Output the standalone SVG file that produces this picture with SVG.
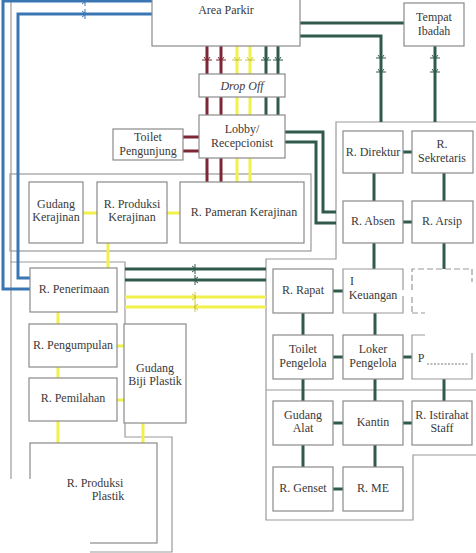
<svg xmlns="http://www.w3.org/2000/svg" width="476" height="553" viewBox="0 0 476 553">
<style>
.box{fill:#fff;stroke:#8a8a8a;stroke-width:1.2}
.cont{fill:none;stroke:#9a9a9a;stroke-width:1.2}
.t{font-family:"Liberation Serif",serif;font-size:12px;fill:#3a3a3a;text-anchor:middle}
.r{stroke:#7d2634;stroke-width:3;fill:none}
.y{stroke:#f2f04a;stroke-width:3;fill:none}
.g{stroke:#2f5a4c;stroke-width:3;fill:none}
.b{stroke:#3a76b4;stroke-width:3;fill:none}
</style>
<defs>
<g id="tv" fill="none" stroke="currentColor" stroke-width="1"><path d="M-5,0 H5 M-3,-3 L0,1 L3,-3"/></g>
<g id="th" fill="none" stroke="currentColor" stroke-width="1"><path d="M0,-5 V5 M-3,-3 L1,0 L-3,3"/></g>
<g id="th2" fill="none" stroke="currentColor" stroke-width="1"><path d="M0,-5 V5 M3,-3 L-1,0 L3,3"/></g>
</defs>
<rect width="476" height="553" fill="#fff"/>

<!-- containers -->
<g id="containers">
<path class="cont" d="M11,0 V479"/>
<rect class="cont" x="10" y="174" width="301" height="77"/>
<path class="cont" d="M10,262 H125 V437 H172 V552 H90"/>
<path class="cont" d="M476,122 H336 V259 H266 V520 H413 V455 H476"/>
<path class="cont" d="M266,390 H476"/>
</g>

<!-- connectors -->
<g id="connectors">
<!-- blue -->
<path class="b" d="M152,1 H3 V289 H30"/>
<path class="b" d="M152,14 H18 V278 H30"/>
<use href="#th" x="85" y="1" style="color:#3a76b4"/>
<use href="#th" x="85" y="14" style="color:#3a76b4"/>
<!-- area parkir to drop off -->
<path class="r" d="M207,46 V182 M221,46 V182"/>
<path class="y" d="M237,46 V182 M250,46 V182"/>
<path class="g" d="M266,46 V115 M278,46 V115"/>
<use href="#tv" x="207" y="60" style="color:#7d2634"/>
<use href="#tv" x="221" y="60" style="color:#7d2634"/>
<use href="#tv" x="237" y="60" style="color:#c8c640"/>
<use href="#tv" x="250" y="60" style="color:#c8c640"/>
<use href="#tv" x="266" y="60" style="color:#2f5a4c"/>
<use href="#tv" x="278" y="60" style="color:#2f5a4c"/>
<!-- toilet pengunjung -->
<path class="r" d="M183,137 H199 M183,151 H199"/>
<!-- lobby to office -->
<path class="g" d="M285,132 H323 V212 H336"/>
<path class="g" d="M285,142 H316 V223 H336"/>
<!-- area parkir to right -->
<path class="g" d="M300,23 H404"/>
<path class="g" d="M300,36 H381 V122"/>
<path class="g" d="M435,46 V122"/>
<use href="#tv" x="381" y="58" style="color:#2f5a4c"/>
<use href="#tv" x="381" y="72" style="color:#2f5a4c"/>
<use href="#tv" x="435" y="58" style="color:#2f5a4c"/>
<use href="#tv" x="435" y="72" style="color:#2f5a4c"/>
<!-- kerajinan -->
<path class="y" d="M83,213 H97 M167,213 H180 M108,243 V268"/>
<!-- penerimaan to right -->
<path class="g" d="M125,269 H266 M125,280 H266"/>
<path class="y" d="M125,297 H266 M125,307 H266"/>
<use href="#th" x="195" y="269" style="color:#2f5a4c"/>
<use href="#th2" x="195" y="280" style="color:#2f5a4c"/>
<use href="#th" x="195" y="297" style="color:#c8c640"/>
<use href="#th2" x="195" y="307" style="color:#c8c640"/>
<!-- plastik chain -->
<path class="y" d="M58,312 V324 M58,367 V378 M58,421 V443 M117,346 H124 M117,400 H124 M143,423 V443"/>
<!-- office green -->
<path class="g" d="M403,152 H412 M374,173 V201 M444,173 V201 M403,222 H412 M374,243 V269 M444,243 V269"/>
<path class="g" d="M333,291 H343 M303,313 V335 M375,313 V335 M333,357 H343 M403,357 H412"/>
<path class="g" d="M303,379 V401 M375,379 V401 M444,379 V401 M333,423 H343 M403,423 H412"/>
<path class="g" d="M303,445 V467 M375,445 V467 M333,489 H343"/>
</g>

<!-- nodes -->
<g id="area-parkir"><rect class="box" x="152" y="-2" width="148" height="48"/><text class="t" x="226" y="14">Area Parkir</text></g>
<g id="tempat-ibadah"><rect class="box" x="404" y="3" width="60" height="43"/><text class="t" x="434" y="21">Tempat</text><text class="t" x="434" y="35">Ibadah</text></g>
<g id="drop-off"><rect class="box" x="199" y="74" width="86" height="23"/><text class="t" x="242" y="90" font-style="italic">Drop Off</text></g>
<g id="lobby"><rect class="box" x="199" y="115" width="86" height="43"/><text class="t" x="242" y="133">Lobby/</text><text class="t" x="242" y="147">Recepcionist</text></g>
<g id="toilet-pengunjung"><rect class="box" x="113" y="129" width="70" height="31"/><text class="t" x="148" y="141">Toilet</text><text class="t" x="148" y="155">Pengunjung</text></g>
<g id="gudang-kerajinan"><rect class="box" x="29" y="182" width="54" height="61"/><text class="t" x="56" y="208">Gudang</text><text class="t" x="56" y="221">Kerajinan</text></g>
<g id="produksi-kerajinan"><rect class="box" x="97" y="182" width="70" height="61"/><text class="t" x="132" y="208">R. Produksi</text><text class="t" x="132" y="221">Kerajinan</text></g>
<g id="pameran-kerajinan"><rect class="box" x="180" y="182" width="124" height="61"/><text class="t" x="244" y="216">R. Pameran Kerajinan</text></g>
<g id="penerimaan"><rect class="box" x="30" y="268" width="87" height="44"/><text class="t" x="74" y="293">R. Penerimaan</text></g>
<g id="pengumpulan"><rect class="box" x="29" y="324" width="88" height="43"/><text class="t" x="73" y="349">R. Pengumpulan</text></g>
<g id="pemilahan"><rect class="box" x="29" y="378" width="88" height="43"/><text class="t" x="73" y="402">R. Pemilahan</text></g>
<g id="gudang-biji"><rect class="box" x="124" y="324" width="62" height="99"/><text class="t" x="155" y="372">Gudang</text><text class="t" x="155" y="385">Biji Plastik</text></g>
<g id="produksi-plastik"><rect class="box" x="30" y="443" width="127" height="100"/>
<rect x="0" y="479" width="90" height="74" fill="#fff"/><rect x="90" y="479" width="30" height="18" fill="#fff"/>
<text class="t" x="95" y="487">R. Produksi</text><text class="t" x="108" y="500">Plastik</text></g>
<g id="direktur"><rect class="box" x="343" y="131" width="60" height="42"/><text class="t" x="373" y="156">R. Direktur</text></g>
<g id="sekretaris"><rect class="box" x="412" y="131" width="61" height="42"/><text class="t" x="442" y="148">R.</text><text class="t" x="442" y="162">Sekretaris</text></g>
<g id="absen"><rect class="box" x="343" y="201" width="60" height="42"/><text class="t" x="373" y="225">R. Absen</text></g>
<g id="arsip"><rect class="box" x="412" y="201" width="61" height="42"/><text class="t" x="442" y="225">R. Arsip</text></g>
<g id="rapat"><rect class="box" x="273" y="269" width="60" height="44"/><text class="t" x="303" y="294">R. Rapat</text></g>
<g id="keuangan"><path class="cont" d="M403,290 V269 H343 V313 H403 V296"/><text class="t" x="352" y="285" text-anchor="start">I</text><text class="t" x="373" y="299" font-size="10.5">Keuangan</text></g>
<g id="box-r3c3"><path class="cont" d="M412,312 V296 M412,290 V269 H472 V282 M412,313 H425" stroke-dasharray="6,3"/></g>
<g id="toilet-pengelola"><rect class="box" x="273" y="335" width="60" height="44"/><text class="t" x="303" y="353">Toilet</text><text class="t" x="303" y="367">Pengelola</text></g>
<g id="loker"><rect class="box" x="343" y="335" width="60" height="44"/><text class="t" x="373" y="353">Loker</text><text class="t" x="373" y="367">Pengelola</text></g>
<g id="box-r4c3"><path class="cont" d="M425,335 H412 V379 H472 V353"/><text class="t" x="421" y="362">P</text><path d="M427,364 H468" stroke="#777" stroke-width="1" stroke-dasharray="2,1.5"/></g>
<g id="gudang-alat"><rect class="box" x="273" y="401" width="60" height="44"/><text class="t" x="303" y="419">Gudang</text><text class="t" x="303" y="432">Alat</text></g>
<g id="kantin"><rect class="box" x="343" y="401" width="60" height="44"/><text class="t" x="373" y="426">Kantin</text></g>
<g id="istirahat"><rect class="box" x="412" y="401" width="60" height="44"/><text class="t" x="442" y="419">R. Istirahat</text><text class="t" x="442" y="432">Staff</text></g>
<g id="genset"><rect class="box" x="273" y="467" width="60" height="44"/><text class="t" x="303" y="492">R. Genset</text></g>
<g id="me"><rect class="box" x="343" y="467" width="60" height="44"/><text class="t" x="373" y="492">R. ME</text></g>
</svg>
